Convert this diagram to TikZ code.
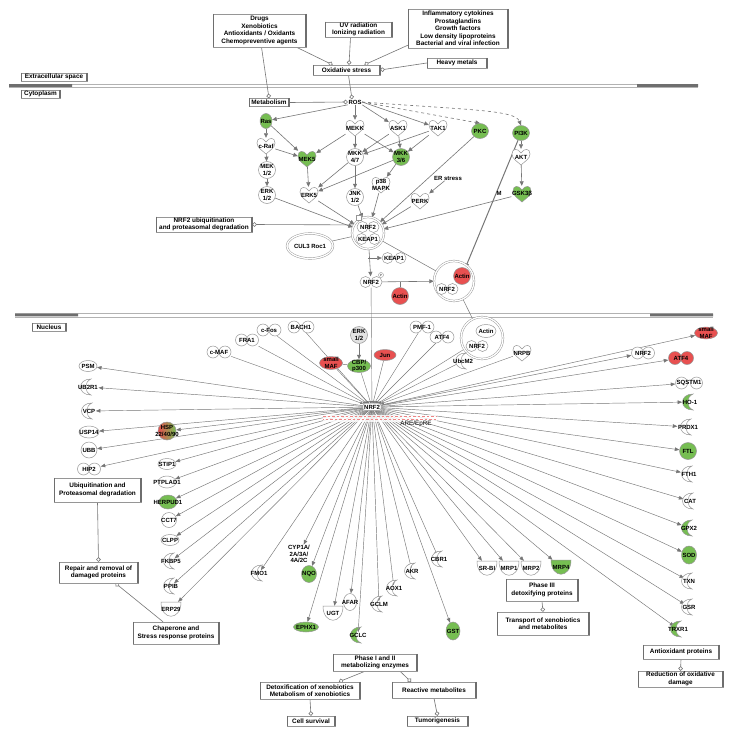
\documentclass[tikz,border=0pt]{standalone}
\usepackage{fontspec}
\setmainfont{Liberation Sans}
\usetikzlibrary{arrows.meta,shapes.geometric,backgrounds}
\definecolor{ipag}{RGB}{118,190,82}
\definecolor{ipar}{RGB}{232,80,80}
\definecolor{lc}{RGB}{118,118,118}
\definecolor{sc}{RGB}{150,150,150}
\definecolor{bc}{RGB}{110,110,110}
\tikzset{
 ft/.style={font=\fontsize{6}{6.5}\selectfont\bfseries, align=center, text=black},
 bft/.style={font=\fontsize{6.4}{7.5}\selectfont\bfseries, align=center, text=black},
 lbl/.style={ft, inner sep=0.5pt},
 en/.style={ft, ellipse, draw=sc, line width=0.5pt, inner xsep=-30pt, inner ysep=-30pt},
 shp/.style={draw=sc, line width=0.5pt},
 cxn/.style={draw=sc, double=white, double distance=1.3pt, line width=0.45pt, inner sep=0pt, fill=white},
 ar/.style={draw=lc, line width=0.6pt, -{Triangle[length=4.5pt,width=4pt]}},
 up/.style={draw=lc, line width=0.4pt, -{Triangle[length=2.5pt,width=2.5pt]}},
 fan/.style={draw=lc, line width=0.45pt, -{Triangle[length=4.5pt,width=3.6pt]}},
 pl/.style={draw=lc, line width=0.5pt},
 lt/.style={draw=lc, line width=0.6pt, -{Circle[open,length=4.5pt,width=4.5pt]}},
 bx/.style={bft, draw=sc, fill=white, line width=0.5pt, inner sep=1pt},
}
\newcommand\mybox[6]{\node[bx, minimum width=#4pt, minimum height=#5pt] (#1) at (#2,#3) {#6};
 \draw[bc, line width=1.1pt] ([xshift=0.3pt]#1.north west) -- ([xshift=0.3pt]#1.south west) ([xshift=-0.3pt]#1.north east) -- ([xshift=-0.3pt]#1.south east);}
\newcommand\mykin[5]{%
 \draw[shp,fill=#4] (#2,#3-4) .. controls (#2-3,#3-9) and (#2-9,#3-9) .. (#2-9,#3-3) .. controls (#2-9,#3+2) and (#2-3,#3+5) .. (#2,#3+8) .. controls (#2+3,#3+5) and (#2+9,#3+2) .. (#2+9,#3-3) .. controls (#2+9,#3-9) and (#2+3,#3-9) .. cycle;
 \node[lbl, minimum width=18pt, minimum height=16pt] (#1) at (#2,#3) {#5};}
\newcommand\mycre[5]{%
 \draw[shp,fill=#4] (#2+3,#3-8) .. controls (#2-11,#3-8) and (#2-11,#3+8) .. (#2+3,#3+8) .. controls (#2-4,#3+5) and (#2-4,#3-5) .. cycle;
 \node[lbl] (#1) at (#2,#3) {#5};}
\newcommand\mycup[5]{%
 \draw[shp,fill=#4] (#2-10,#3-7) -- (#2+10,#3-7) .. controls (#2+10,#3+12) and (#2-10,#3+12) .. cycle;
 \node[lbl, minimum width=20pt, minimum height=14pt] (#1) at (#2,#3) {#5};}
\newcommand\mydim[7]{%
 \draw[shp,fill=#6] (#2-#4,#3) circle[radius=#5pt] (#2+#4,#3) circle[radius=#5pt];
 \node[lbl, minimum width={2*#4pt+2*#5pt}, minimum height={2*#5pt}] (#1) at (#2,#3) {#7};}
\begin{document}
\begin{tikzpicture}[x=1pt,y=-1pt]
\useasboundingbox (0,0) rectangle (733,736);
% ---------- boxes ----------
\mybox{drugs}{259.5}{30.5}{93}{33}{Drugs\\Xenobiotics\\Antioxidants / Oxidants\\Chemopreventive agents}
\mybox{uv}{358.5}{29.5}{67}{15}{UV radiation\\Ionizing radiation}
\mybox{infl}{458}{28.5}{100}{39}{Inflammatory cytokines\\Prostaglandins\\Growth factors\\Low density lipoproteins\\Bacterial and viral infection}
\mybox{ox}{346.5}{70}{67}{10}{Oxidative stress}
\mybox{hm}{457}{63}{60}{10}{Heavy metals}
\mybox{ecs}{54}{77}{66}{8}{Extracellular space}
\mybox{cyt}{40.5}{94}{39}{8}{Cytoplasm}
\mybox{metab}{269}{102.5}{40}{8}{Metabolism}
\mybox{ubq}{204}{224.5}{96}{15}{NRF2 ubiquitination\\and proteasomal degradation}
\mybox{nuc}{49}{327}{34}{8}{Nucleus}
\mybox{ubp}{97.5}{490}{87}{24}{Ubiquitination and\\Proteasomal degradation}
\mybox{rep}{98.5}{572.5}{79}{21}{Repair and removal of\\damaged proteins}
\mybox{chap}{176}{633}{86}{22}{Chaperone and\\Stress response proteins}
\mybox{p12}{375}{662.5}{84}{17}{Phase I and II\\metabolizing enzymes}
\mybox{detox}{310}{690.5}{100}{17}{Detoxification of xenobiotics\\Metabolism of xenobiotics}
\mybox{react}{434}{690}{84}{16}{Reactive metabolites}
\mybox{cs}{311}{721}{48}{10}{Cell survival}
\mybox{tum}{437.5}{721}{61}{10}{Tumorigenesis}
\mybox{p3}{542}{590}{72}{22}{Phase III\\detoxifying proteins}
\mybox{trans}{543}{623.5}{92}{23}{Transport of xenobiotics\\and metabolites}
\mybox{aop}{681}{652}{76}{14}{Antioxidant proteins}
\mybox{rod}{680.5}{679}{85}{16}{Reduction of oxidative\\damage}
% ---------- cytoplasm ----------
\node[lbl] (ros) at (355,102) {ROS};
\node[en, fill=ipag, minimum width=12pt, minimum height=15pt] (ras) at (266,121) {Ras};
\mykin{craf}{266}{146}{white}{c-Raf}
\node[en, fill=white, minimum size=17pt] (mek12) at (267,170) {MEK\\1/2};
\node[en, fill=white, minimum size=17pt] (erk12) at (267,195) {ERK\\1/2};
\mykin{mek5}{307}{159}{ipag}{MEK5}
\mykin{erk5}{309}{195}{white}{ERK5}
\mykin{mekk}{355}{128}{white}{MEKK}
\mykin{ask}{398}{128}{white}{ASK1}
\mykin{tak}{438}{128}{white}{TAK1}
\node[en, fill=white, minimum size=17pt] (mkk47) at (355,157) {MKK\\4/7};
\node[en, fill=ipag, minimum size=17pt] (mkk36) at (401,157) {MKK\\3/6};
\mykin{p38}{381}{185}{white}{p38\\MAPK}
\node[en, fill=white, minimum size=17pt] (jnk) at (355,197) {JNK\\1/2};
\node[en, fill=ipag, minimum width=17pt, minimum height=15pt] (pkc) at (480,131) {PKC};
\node[en, fill=ipag, minimum width=17pt, minimum height=15pt] (pi3k) at (521,133) {PI3K};
\mykin{akt}{521}{157}{white}{AKT}
\mykin{gsk}{522}{194}{ipag}{GSK3β}
\node[lbl] (ers) at (448,178) {ER stress};
\mykin{perk}{420}{201}{white}{PERK}
\node[lbl] (mlab) at (499,193) {M};
\node[cxn, circle, minimum size=32pt] (cx) at (368,233) {};
\mydim{cxn2}{368}{227}{5.5}{5.5}{white}{NRF2}
\mydim{cxk}{368}{239}{6.5}{5.5}{white}{KEAP1}
\node[draw=sc, fill=white, minimum size=5pt, inner sep=0pt] (sq) at (359,218) {};
\node[cxn, ellipse, minimum width=46pt, minimum height=25pt, ft] (cul) at (310,246) {CUL3 Roc1};
\mydim{kp1}{394}{258}{6.5}{5.5}{white}{KEAP1}
\mydim{nrfp}{371}{282}{5.5}{5.5}{white}{NRF2}
\node[circle, draw=sc, fill=white, minimum size=5pt, inner sep=0pt, font=\fontsize{3}{3}\selectfont] (pp) at (381,275) {P};
\node[en, fill=ipar, minimum size=17pt] (act1) at (400,296) {Actin};
\node[cxn, circle, minimum size=40pt] (cx2) at (454,281) {};
\node[en, fill=ipar, minimum size=17pt] (act2) at (462,276) {Actin};
\mydim{cx2n}{447}{289}{5.5}{5.5}{white}{NRF2}
% ---------- nucleus ----------
\node[cxn, circle, minimum size=42pt] (ncx) at (482,338) {};
\node[en, fill=white, minimum width=20pt, minimum height=13pt] (act3) at (486,331) {Actin};
\mydim{ncxn}{477}{346}{5.5}{5.5}{white}{NRF2}
\mydim{cmaf}{219}{352}{6}{6}{white}{c-MAF}
\mydim{fra}{247}{340}{5.5}{6}{white}{FRA1}
\mydim{cfos}{269}{330}{6}{6}{white}{c-Fos}
\mydim{bach}{301}{327}{7}{6}{white}{BACH1}
\node[en, fill=gray!22, minimum size=17pt] (erkn) at (359,335) {ERK\\1/2};
\node[en, fill=ipag, minimum width=23pt, minimum height=13pt] (cbp) at (359,366) {CBP/\\p300};
\node[en, fill=ipar, minimum width=23pt, minimum height=13pt] (smaf) at (331,363) {small\\MAF};
\node[en, fill=ipar, minimum width=22pt, minimum height=11pt] (jun) at (385,355) {Jun};
\mydim{pmf}{422}{327}{6}{6}{white}{PMF-1}
\mydim{atf}{442}{337}{6}{6}{white}{ATF4}
\mycre{ubc}{463}{361}{white}{UbcM2}
\mykin{nrpb}{522}{353}{white}{NRPB}
\fill[white, opacity=0.8] (323,414.5) rectangle (437,421.5);
\draw[ipar!70, line width=0.5pt, dash pattern=on 2.5pt off 2pt] (323,416.5) -- (437,416.5);
\draw[ipar!70, line width=0.5pt, dash pattern=on 2.5pt off 2pt, dash phase=2pt] (323,419.5) -- (437,419.5);
\node[ft, draw=sc, fill=white, rounded corners=2pt, inner sep=1.2pt] (nrf) at (372,407) {NRF2};
\node[inner sep=0.5pt, font=\fontsize{6.3}{7}\selectfont] (are) at (416,423.5) {ARE/EpRE};
% right targets
\mydim{nrfr}{643}{353}{5.5}{6}{white}{NRF2}
\node[en, fill=ipar, minimum width=23pt, minimum height=12pt] (smafr) at (706,333) {small\\MAF};
\mydim{atfr}{681}{358}{6}{6.5}{ipar}{ATF4}
\mydim{sqs}{689}{383}{7.5}{6}{white}{SQSTM1}
\mycre{ho}{690}{402}{ipag}{HO-1}
\mycre{prdx}{688}{427}{white}{PRDX1}
\node[en, fill=ipag, minimum size=17pt] (ftl) at (688,451) {FTL};
\mycre{fth}{689}{474}{white}{FTH1}
\mycre{cat}{690}{501}{white}{CAT}
\mycre{gpx}{689}{528}{ipag}{GPX2}
\node[en, fill=ipag, minimum width=15pt, minimum height=18pt] (sod) at (689,555) {SOD};
\mycre{txn}{689}{581}{white}{TXN}
\mycre{gsr}{689}{607}{white}{GSR}
\mycre{trx}{678}{629}{ipag}{TRXR1}
% bottom targets
\mycup{srbi}{487}{568}{white}{SR-BI}
\mycup{mrp1}{509}{568}{white}{MRP1}
\mycup{mrp2}{531}{568}{white}{MRP2}
\mycup{mrp4}{561}{567}{ipag}{MRP4}
\mycre{cbr}{439}{559}{white}{CBR1}
\mycre{akr}{412}{571}{white}{AKR}
\mycre{aox}{394}{588}{white}{AOX1}
\mycre{gclm}{379}{604}{white}{GCLM}
\node[en, fill=white, minimum width=13pt, minimum height=17pt] (afar) at (350,602) {AFAR};
\mycup{ugt}{333}{613}{white}{UGT}
\mycre{gclc}{358}{635}{ipag}{GCLC}
\node[en, fill=ipag, minimum width=25pt, minimum height=10pt] (ephx) at (306,627) {EPHX1};
\node[en, fill=ipag, minimum width=15pt, minimum height=17pt] (nqo) at (309,574) {NQO};
\node[lbl] (cyp) at (299,554) {CYP1A/\\2A/3A/\\4A/2C};
\mycre{fmo}{259}{573}{white}{FMO1}
\node[en, fill=ipag, minimum width=14pt, minimum height=18pt] (gst) at (453,631) {GST};
% left targets
\node[en, fill=white, minimum width=18pt, minimum height=11pt] (psm) at (88,366) {PSM};
\mycre{ub2}{88}{387}{white}{UB2R1}
\mycre{vcp}{89}{411}{white}{VCP}
\node[en, fill=white, minimum width=20pt, minimum height=12pt] (usp) at (89,432) {USP14};
\node[en, fill=white, minimum size=16pt] (ubb) at (89,450) {UBB};
\mydim{hip}{89}{469}{5.5}{6}{white}{HIP2}
\node[en, left color=ipar, right color=ipag, minimum size=18pt] (hsp) at (167,431) {HSP\\22/40/90};
\node[en, fill=white, minimum width=18pt, minimum height=11pt] (stip) at (167,464) {STIP1};
\node[en, fill=white, minimum width=18pt, minimum height=12pt] (ptp) at (167,482) {PTPLAD1};
\node[en, fill=ipag, minimum width=18pt, minimum height=14pt] (herp) at (168,502) {HERPUD1};
\node[en, fill=white, minimum size=15pt] (cct) at (169,520) {CCT7};
\node[en, fill=white, minimum width=18pt, minimum height=11pt] (clpp) at (170,540) {CLPP};
\mycre{fkbp}{171}{561}{white}{FKBP5}
\mycre{ppib}{171}{586}{white}{PPIB}
\mycup{erp}{171}{609}{white}{ERP29}
% ---------- background: membranes and connectors ----------
\begin{scope}[on background layer]
\fill[white] (0,0) rectangle (733,736);
\draw[gray!60, line width=0.4pt] (9,84) -- (698,84) (9,87.5) -- (698,87.5);
\fill[bc] (9,84) rectangle (72,86.8) (637,84) rectangle (698,86.8);
\draw[gray!60, line width=0.4pt] (15,313.5) -- (713,313.5) (15,317) -- (713,317);
\fill[bc] (15,313.5) rectangle (78,316.3) (650,313.5) rectangle (713,316.3);
% leads-to
\draw[lt] ([xshift=2pt]drugs.south) -- (metab.north);
\draw[lt] ([xshift=37pt]drugs.south) -- ([xshift=-14pt]ox.north);
\draw[lt] ([xshift=-8pt]uv.south) -- ([xshift=2.5pt]ox.north);
\draw[lt] ([yshift=3pt]infl.south west) -- ([xshift=18pt]ox.north);
\draw[lt] (hm.west) -- (ox.east);
\draw[lt] ([xshift=2pt]ox.south) -- ([xshift=-3pt]ros.north);
\draw[lt] (metab.east) -- (ros.west);
\draw[lt] (cx.150) -- (ubq.east);
\draw[lt] ([xshift=-10pt]p12.south) -- ([xshift=29pt]detox.north);
\draw[lt] ([xshift=25pt]p12.south) -- ([xshift=-23pt]react.north);
\draw[lt] (detox.south) -- (cs.north);
\draw[lt] (react.south) -- (tum.north);
\draw[lt] (ubp.south) -- (rep.north);
\draw[lt] ([xshift=-13pt]chap.north) -- ([xshift=17pt]rep.south);
\draw[lt] (p3.south) -- (trans.north);
\draw[lt] (aop.south) -- (rod.north);
% cytoplasm signalling
\draw[ar] (ros.south west) -- (ras);
\draw[ar] (ros) -- (mekk);
\draw[ar] (ros.south east) -- (ask);
\draw[ar] (ros.east) -- (tak);
\draw[ar, dashed] (ros.east) -- (pkc.north);
\draw[ar, dashed] (ros.east) .. controls (470,110) and (515,110) .. (pi3k.north);
\draw[ar] (ras) -- (craf);
\draw[ar] (ras) -- (mek5);
\draw[ar] (craf) -- (mek12);
\draw[ar] (craf) -- (mek5);
\draw[ar] (mek12) -- (erk12);
\draw[ar] (mekk) -- (mek5);
\draw[ar] (mekk) -- (mkk47);
\draw[ar] (mekk) -- (mkk36);
\draw[ar] (ask) -- (mkk47);
\draw[ar] (ask) -- (mkk36);
\draw[ar] (tak) -- (mkk47);
\draw[ar] (tak) -- (mkk36);
\draw[ar] (mek5) -- (erk5);
\draw[ar] (mkk47) -- (erk5);
\draw[ar] (mkk36) -- (erk5);
\draw[ar] (mkk47) -- (jnk);
\draw[ar] (mkk36) -- (p38);
\draw[ar] (erk12) -- (cx);
\draw[ar] (erk5) -- (cx);
\draw[ar] (jnk) -- (cx);
\draw[ar] (p38) -- (cx);
\draw[ar] (pkc) -- (cx);
\draw[ar] (perk) -- (cx);
\draw[ar] (gsk) -- (cx);
\draw[ar] (ers) -- (perk);
\draw[ar] (pi3k) -- (akt);
\draw[ar] (akt) -- (gsk);
\draw[ar, line width=1pt] (pi3k) -- (act2);
\draw[ar] (cx) -- (nrfp);
\draw[ar] (cx.south |- kp1.west) -- (kp1.west);
\draw[ar] (nrfp) -- (cx2);
\draw[pl] (act1) -- (act1 |- nrfp);
\draw[pl] (cx) -- (cx2);
\draw[pl] (cx2) -- (ncx);
\draw[pl] (cul) -- (cx);
\draw[up] (nrfp) -- (nrf);
% nucleus inputs
\foreach \s in {cmaf,fra,cfos,bach,smaf,cbp,jun,pmf,atf,ubc,nrpb,ncx}{\draw[up] (\s) -- (nrf);}
\draw[ar] (erkn) -- (cbp);
\draw[pl] (smaf) -- (cbp);
% nucleus targets
\foreach \t in {psm,ub2,vcp,usp,ubb,hip,hsp,stip,ptp,herp,cct,clpp,fkbp,ppib,erp,fmo,cyp,nqo,ephx,ugt,afar,gclc,gclm,aox,akr,gst,cbr,srbi,mrp1,mrp2,mrp4,trx,gsr,txn,sod,gpx,cat,fth,ftl,prdx,ho,sqs,atfr,nrfr,smafr}{\draw[fan] (nrf) -- (\t);}
\end{scope}
\end{tikzpicture}
\end{document}
